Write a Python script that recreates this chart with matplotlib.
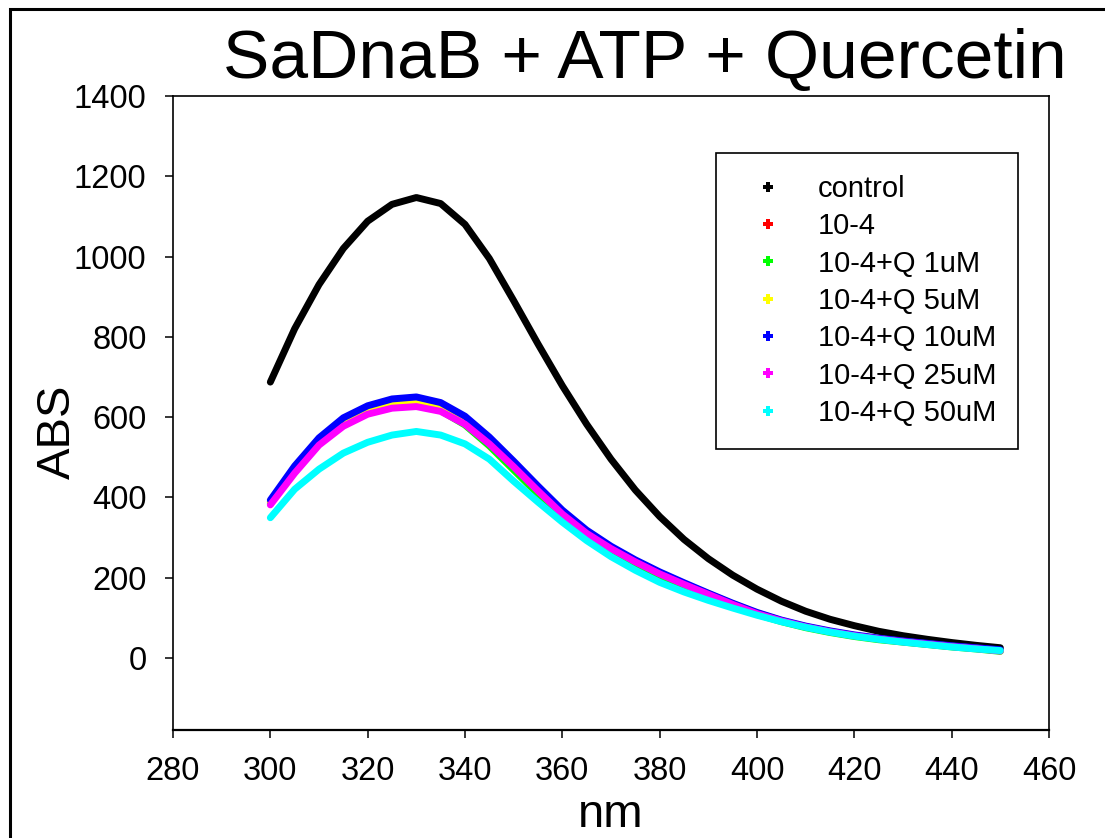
import matplotlib
matplotlib.use("Agg")
import matplotlib.pyplot as plt
from matplotlib.patches import Rectangle
from matplotlib.lines import Line2D

plt.rcParams['font.family'] = ['Liberation Sans', 'DejaVu Sans']

# wavelength grid (nm) read every 5 nm
wavelength = list(range(300, 451, 5))

control = [687, 820, 930, 1020, 1088, 1130, 1147, 1132, 1080, 995, 890, 782,
           678, 582, 495, 418, 352, 295, 247, 206, 171, 141, 116, 96, 80, 66,
           55, 46, 38, 31, 25]
q0 = [388, 470, 540, 588, 618, 632, 636, 623, 590, 540, 482, 421, 362, 313,
      274, 241, 211, 184, 159, 134, 111, 92, 77, 65, 55, 47, 40, 34, 28, 23, 18]
q1 = [385, 465, 535, 582, 612, 626, 630, 616, 580, 528, 468, 408, 350, 302,
      265, 233, 204, 178, 154, 130, 108, 90, 75, 63, 53, 45, 39, 33, 27, 22, 16]
q5 = [390, 472, 543, 592, 622, 637, 640, 627, 593, 542, 484, 423, 364, 314,
      275, 242, 212, 185, 160, 135, 112, 93, 78, 66, 56, 48, 41, 35, 29, 24, 18]
q10 = [393, 478, 548, 598, 628, 645, 650, 636, 602, 550, 490, 428, 368, 318,
       278, 244, 214, 187, 161, 136, 113, 94, 79, 67, 57, 49, 42, 36, 30, 25, 20]
q25 = [381, 460, 530, 577, 607, 622, 626, 614, 582, 533, 476, 416, 358, 310,
       272, 239, 209, 183, 158, 133, 110, 92, 77, 65, 55, 47, 40, 34, 28, 23, 17]
q50 = [349, 420, 470, 510, 537, 555, 564, 555, 533, 495, 440, 388, 338, 292,
       252, 218, 188, 164, 143, 124, 106, 90, 76, 64, 54, 46, 39, 33, 27, 22, 18]

labels = ['control', '10-4', '10-4+Q 1uM', '10-4+Q 5uM', '10-4+Q 10uM',
          '10-4+Q 25uM', '10-4+Q 50uM']
colors = ['black', '#ff0000', '#00ff00', '#ffff00', '#0000ff', '#ff00ff', '#00ffff']
series = [control, q0, q1, q5, q10, q25, q50]

W, H = 1105, 838
fig = plt.figure(figsize=(W / 100, H / 100), dpi=100)

# axes box in pixels: left 173, right 1049, top 96, bottom 730
ax = fig.add_axes([173 / W, 1 - 730 / H, 876 / W, 634 / H])

for y, c in zip(series, colors):
    ax.plot(wavelength, y, color=c, lw=5, solid_capstyle='round',
            solid_joinstyle='round')

ax.set_xlim(280, 460)
ax.set_ylim(-180, 1400)
ax.set_xticks(range(280, 461, 20))
ax.set_yticks(range(0, 1401, 200))
ax.tick_params(direction='out', length=6, width=1.1, labelsize=23.5, pad=13,
               top=False, right=False)
for s in ax.spines.values():
    s.set_linewidth(1.2)
ax.spines['bottom'].set_linewidth(1.6)

handles = [Line2D([], [], ls='none', marker='P', ms=7.5, color=c,
                  markeredgewidth=0) for c in colors]
leg = ax.legend(handles, labels, loc='upper left',
                bbox_to_anchor=((716 - 173) / 876, (730 - 153) / 634),
                borderaxespad=0, fontsize=21, frameon=True, fancybox=False,
                edgecolor='black', framealpha=1, borderpad=0.75,
                handlelength=2.05, handletextpad=0.7, labelspacing=0.32)
leg.get_frame().set_linewidth(1.2)

fig.text(645 / W, 1 - 78 / H, 'SaDnaB + ATP + Quercetin', fontsize=50,
         ha='center', va='baseline')
fig.text(611 / W, 1 - 827 / H, 'nm', fontsize=34, ha='center', va='baseline')
fig.text(58 / W, 1 - 432 / H, 'ABS', fontsize=34, rotation=90,
         ha='center', va='center')

# outer frame, cut off at right and bottom
fig.add_artist(Rectangle((9.5 / W, -0.1), 2, 1.1 - 9.5 / H,
                         transform=fig.transFigure, fill=False,
                         edgecolor='black', lw=2.2, clip_on=False))

fig.savefig('out.png', dpi=100)
